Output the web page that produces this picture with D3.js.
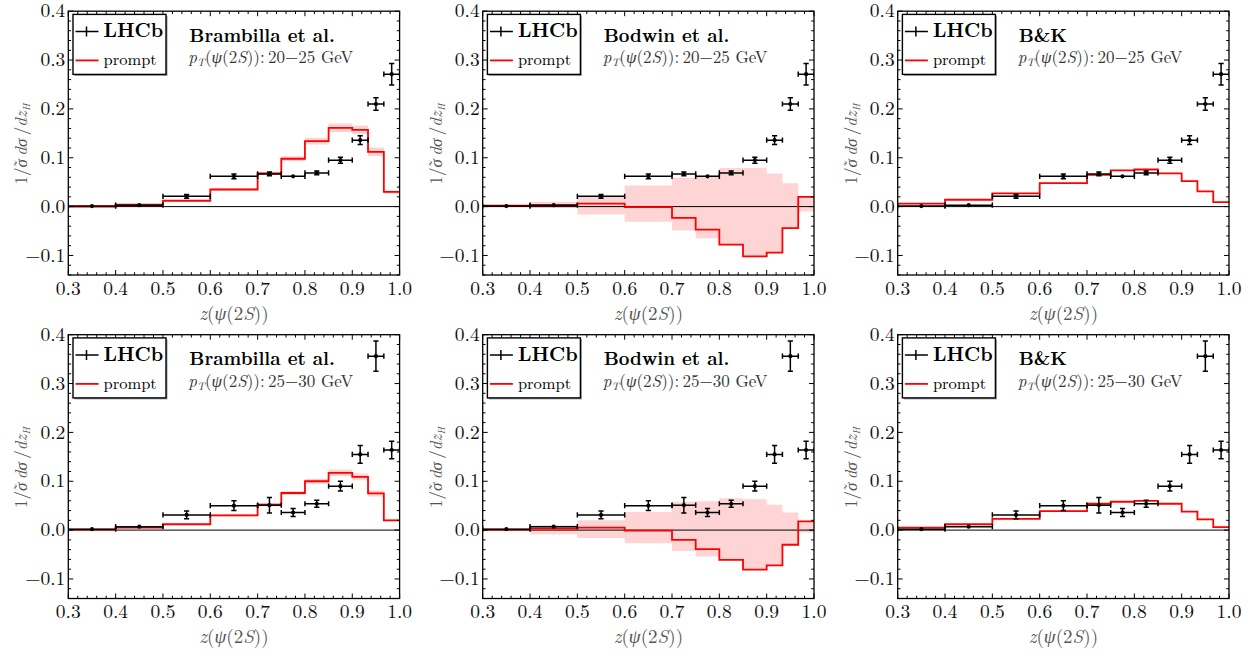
<!DOCTYPE html>
<meta charset="utf-8">
<style>
body { margin: 0; background: #fff; }
.frame { fill: none; stroke: #000; stroke-width: 1.3; }
.tick line { stroke: #000; stroke-width: 1; }
.ticklab { font-size: 19.5px; fill: #111; }
.axtitle { font-size: 19px; fill: #555; }
.band { stroke: none; fill: #ffd4d4; }
.theory { fill: none; stroke: #f00; stroke-width: 1.8; }
.zero { stroke: #000; stroke-width: 1; }
.err { stroke: #000; stroke-width: 1.5; fill: none; }
.dot { fill: #000; }
.legbox { fill: #fff; stroke: #000; stroke-width: 1.4; }
.legshadow { fill: #999; }
</style>
<div id="chart"></div>
<script src="https://cdn.jsdelivr.net/npm/d3@7"></script>
<script>

// bin edges and data points in z(psi(2S))
var zEdges = [0.3, 0.4, 0.5, 0.6, 0.7, 0.75, 0.8, 0.85, 0.9, 0.9333, 0.9667, 1.0];
var zCenters = [0.35, 0.45, 0.55, 0.65, 0.725, 0.775, 0.825, 0.875, 0.9167, 0.95, 0.9833];

// LHCb measurement, pT 20-25 GeV and 25-30 GeV
var lhcb20 = [0.001, 0.003, 0.021, 0.062, 0.067, 0.062, 0.069, 0.095, 0.136, 0.210, 0.271];
var lhcb20Err = [0.001, 0.001, 0.004, 0.005, 0.004, 0.002, 0.004, 0.006, 0.009, 0.013, 0.022];
var lhcb25 = [0.002, 0.007, 0.031, 0.050, 0.051, 0.036, 0.054, 0.090, 0.155, 0.356, 0.164];
var lhcb25Err = [0.001, 0.002, 0.008, 0.010, 0.016, 0.008, 0.007, 0.010, 0.018, 0.031, 0.018];

// prompt predictions (central, band low, band high)
var bramb20 = [0.000, 0.004, 0.012, 0.035, 0.068, 0.098, 0.134, 0.161, 0.157, 0.112, 0.030];
var bramb20Lo = [0.000, 0.003, 0.011, 0.033, 0.065, 0.093, 0.127, 0.152, 0.148, 0.103, 0.027];
var bramb20Hi = [0.001, 0.005, 0.013, 0.037, 0.071, 0.103, 0.141, 0.170, 0.166, 0.121, 0.033];
var bramb25 = [0.001, 0.005, 0.012, 0.030, 0.052, 0.076, 0.100, 0.117, 0.109, 0.075, 0.020];
var bramb25Lo = [0.000, 0.004, 0.011, 0.028, 0.049, 0.072, 0.095, 0.110, 0.102, 0.069, 0.018];
var bramb25Hi = [0.002, 0.006, 0.013, 0.032, 0.055, 0.080, 0.105, 0.124, 0.116, 0.081, 0.022];

var bodwin20 = [0.002, 0.003, 0.006, -0.001, -0.023, -0.047, -0.078, -0.102, -0.094, -0.044, 0.020];
var bodwin20Lo = [-0.001, -0.003, -0.016, -0.031, -0.049, -0.065, -0.078, -0.102, -0.094, -0.044, -0.010];
var bodwin20Hi = [0.004, 0.010, 0.020, 0.043, 0.059, 0.063, 0.079, 0.079, 0.068, 0.048, 0.020];
var bodwin25 = [0.001, 0.003, 0.005, -0.001, -0.020, -0.039, -0.061, -0.081, -0.072, -0.030, 0.018];
var bodwin25Lo = [-0.002, -0.009, -0.016, -0.027, -0.043, -0.054, -0.061, -0.081, -0.072, -0.030, -0.005];
var bodwin25Hi = [0.003, 0.010, 0.020, 0.037, 0.058, 0.059, 0.065, 0.063, 0.052, 0.036, 0.018];

var bk20 = [0.006, 0.014, 0.027, 0.048, 0.065, 0.074, 0.076, 0.068, 0.052, 0.031, 0.009];
var bk20Lo = [0.005, 0.013, 0.026, 0.047, 0.064, 0.073, 0.075, 0.067, 0.051, 0.030, 0.008];
var bk20Hi = [0.007, 0.015, 0.028, 0.049, 0.066, 0.075, 0.077, 0.069, 0.053, 0.032, 0.010];
var bk25 = [0.005, 0.012, 0.023, 0.039, 0.054, 0.058, 0.060, 0.054, 0.038, 0.022, 0.006];
var bk25Lo = [0.004, 0.011, 0.022, 0.038, 0.053, 0.057, 0.059, 0.053, 0.037, 0.021, 0.005];
var bk25Hi = [0.006, 0.013, 0.024, 0.040, 0.055, 0.059, 0.061, 0.055, 0.039, 0.023, 0.007];

var modelNames = ["Brambilla et al.", "Bodwin et al.", "B&K"];
var ptLabels = ["20\u221225 GeV", "25\u221230 GeV"];
var xTicks = [0.3, 0.4, 0.5, 0.6, 0.7, 0.8, 0.9, 1.0];
var yTicks = [-0.1, 0.0, 0.1, 0.2, 0.3, 0.4];

var panels = [
  {row: 0, col: 0, data: lhcb20, err: lhcb20Err, th: bramb20, lo: bramb20Lo, hi: bramb20Hi},
  {row: 0, col: 1, data: lhcb20, err: lhcb20Err, th: bodwin20, lo: bodwin20Lo, hi: bodwin20Hi},
  {row: 0, col: 2, data: lhcb20, err: lhcb20Err, th: bk20, lo: bk20Lo, hi: bk20Hi},
  {row: 1, col: 0, data: lhcb25, err: lhcb25Err, th: bramb25, lo: bramb25Lo, hi: bramb25Hi},
  {row: 1, col: 1, data: lhcb25, err: lhcb25Err, th: bodwin25, lo: bodwin25Lo, hi: bodwin25Hi},
  {row: 1, col: 2, data: lhcb25, err: lhcb25Err, th: bk25, lo: bk25Lo, hi: bk25Hi}
];

var colLeft = [68.3, 482.7, 897.7];
var plotW = 331.3;
var rowTop = [11.2, 334.7];
var plotH = 263.8;

var svg = d3.select("#chart").append("svg")
    .attr("width", 1250).attr("height", 654);

panels.forEach(function(p) {
  var x0 = colLeft[p.col], y0 = rowTop[p.row];
  var g = svg.append("g").attr("transform", "translate(" + x0 + "," + y0 + ")");

  var x = d3.scaleLinear().domain([0.3, 1.0]).range([0, plotW]);
  var y = d3.scaleLinear().domain([-0.14, 0.4]).range([plotH, 0]);

  var clipId = "clip" + p.row + p.col;
  g.append("clipPath").attr("id", clipId)
    .append("rect").attr("width", plotW).attr("height", plotH);
  var inner = g.append("g").attr("clip-path", "url(#" + clipId + ")");

  // step data: append last value at z = 1.0
  var steps = zEdges.map(function(e, i) {
    var k = Math.min(i, p.th.length - 1);
    return {z: e, v: p.th[k], lo: p.lo[k], hi: p.hi[k]};
  });

  inner.append("path").datum(steps).attr("class", "band")
    .attr("d", d3.area().curve(d3.curveStepAfter)
      .x(function(d) { return x(d.z); })
      .y0(function(d) { return y(d.lo); })
      .y1(function(d) { return y(d.hi); }));

  inner.append("line").attr("class", "zero")
    .attr("x1", 0).attr("x2", plotW).attr("y1", y(0)).attr("y2", y(0));

  inner.append("path").datum(steps).attr("class", "theory")
    .attr("d", d3.line().curve(d3.curveStepAfter)
      .x(function(d) { return x(d.z); })
      .y(function(d) { return y(d.v); }));

  // LHCb points with error bars
  var pts = zCenters.map(function(c, i) {
    return {z: c, a: zEdges[i], b: zEdges[i + 1], v: p.data[i], e: p.err[i]};
  });
  var cap = 2.6;
  var pg = inner.selectAll(".pt").data(pts).enter().append("g").attr("class", "pt");
  pg.append("path").attr("class", "err").attr("d", function(d) {
    var xa = x(d.a), xb = x(d.b), xc = x(d.z), yc = y(d.v);
    var yl = y(d.v - d.e), yh = y(d.v + d.e);
    var s = "M" + xa + "," + yc + "H" + xb;
    s += "M" + xa + "," + (yc - cap) + "V" + (yc + cap);
    s += "M" + xb + "," + (yc - cap) + "V" + (yc + cap);
    if (yl - yh > 2) {
      s += "M" + xc + "," + yl + "V" + yh;
      s += "M" + (xc - cap) + "," + yl + "H" + (xc + cap);
      s += "M" + (xc - cap) + "," + yh + "H" + (xc + cap);
    }
    return s;
  });
  pg.append("circle").attr("class", "dot")
    .attr("cx", function(d) { return x(d.z); })
    .attr("cy", function(d) { return y(d.v); })
    .attr("r", 2.1);

  // ticks on all four sides, pointing inward
  var xMinor = d3.range(0.3, 1.0001, 0.02);
  var yMinor = d3.range(-0.14, 0.4001, 0.02);
  var tk = g.append("g").attr("class", "tick");
  xMinor.forEach(function(v) {
    var major = xTicks.some(function(t) { return Math.abs(t - v) < 1e-6; });
    var L = major ? 5 : 2.8;
    tk.append("line").attr("x1", x(v)).attr("x2", x(v)).attr("y1", plotH).attr("y2", plotH - L);
    tk.append("line").attr("x1", x(v)).attr("x2", x(v)).attr("y1", 0).attr("y2", L);
  });
  yMinor.forEach(function(v) {
    var major = yTicks.some(function(t) { return Math.abs(t - v) < 1e-6; });
    var L = major ? 5 : 2.8;
    tk.append("line").attr("x1", 0).attr("x2", L).attr("y1", y(v)).attr("y2", y(v));
    tk.append("line").attr("x1", plotW).attr("x2", plotW - L).attr("y1", y(v)).attr("y2", y(v));
  });

  g.append("rect").attr("class", "frame").attr("width", plotW).attr("height", plotH);

  g.selectAll(".xl").data(xTicks).enter().append("text")
    .attr("class", "ticklab")
    .attr("x", function(d) { return x(d); })
    .attr("y", plotH + 20)
    .attr("text-anchor", "middle")
    .text(function(d) { return d.toFixed(1); });

  g.selectAll(".yl").data(yTicks).enter().append("text")
    .attr("class", "ticklab")
    .attr("x", -3)
    .attr("y", function(d) { return y(d) + 6.2; })
    .attr("text-anchor", "end")
    .text(function(d) { return d < 0 ? "\u2212" + Math.abs(d).toFixed(1) : d.toFixed(1); });

  // axis titles
  var xt = g.append("text").attr("class", "axtitle")
    .attr("x", plotW / 2).attr("y", plotH + 45).attr("text-anchor", "middle");
  xt.append("tspan").attr("font-style", "italic").text("z");
  xt.append("tspan").text("(");
  xt.append("tspan").attr("font-style", "italic").text("\u03c8");
  xt.append("tspan").text("(2");
  xt.append("tspan").attr("font-style", "italic").text("S");
  xt.append("tspan").text("))");

  var yt = g.append("text").attr("class", "axtitle")
    .attr("transform", "translate(" + (-41) + "," + (plotH / 2 + 1) + ") rotate(-90)")
    .attr("text-anchor", "middle").style("font-size", "17px");
  yt.append("tspan").text("1/");
  yt.append("tspan").attr("font-style", "italic").text("\u03c3");
  yt.append("tspan").attr("dx", -8.5).attr("dy", -1).text("\u02dc");
  yt.append("tspan").attr("font-style", "italic").attr("dy", 1).text("\u2009d\u03c3");
  yt.append("tspan").text("\u2009/");
  yt.append("tspan").attr("font-style", "italic").text("dz");
  yt.append("tspan").attr("font-style", "italic").attr("font-size", "10px").attr("dy", 3).text("H");

  // legend
  var lg = g.append("g").attr("transform", "translate(4.7,3.2)");
  lg.append("rect").attr("class", "legshadow").attr("x", 1.5).attr("y", 1.5).attr("width", 93).attr("height", 60);
  lg.append("rect").attr("class", "legbox").attr("width", 93).attr("height", 60);
  lg.append("path").attr("class", "err").attr("d", "M2.5,17H25.5M13.5,12V22");
  lg.append("text").attr("x", 30.5).attr("y", 23).attr("font-weight", "bold")
    .style("font-size", "19.5px").text("LHCb");
  lg.append("line").attr("x1", 2.5).attr("x2", 25.5).attr("y1", 46).attr("y2", 46)
    .attr("stroke", "#f00").attr("stroke-width", 1.8);
  lg.append("text").attr("x", 30.5).attr("y", 51).style("font-size", "16.5px").text("prompt");

  // model name and pT range
  g.append("text").attr("x", 121).attr("y", 30.5).attr("font-weight", "bold")
    .style("font-size", "18.5px").text(modelNames[p.col]);
  var st = g.append("text").attr("x", 120).attr("y", 52).style("font-size", "17px").attr("fill", "#333");
  st.append("tspan").attr("font-style", "italic").text("p");
  st.append("tspan").attr("font-style", "italic").attr("font-size", "11px").attr("dy", 3).text("T");
  st.append("tspan").attr("dy", -3).text("(");
  st.append("tspan").attr("font-style", "italic").text("\u03c8");
  st.append("tspan").text("(2");
  st.append("tspan").attr("font-style", "italic").text("S");
  st.append("tspan").text(")):\u2009" + ptLabels[p.row]);
});

// one font family per text element
svg.selectAll("text").style("font-family", "'Latin Modern Roman'");
</script>
